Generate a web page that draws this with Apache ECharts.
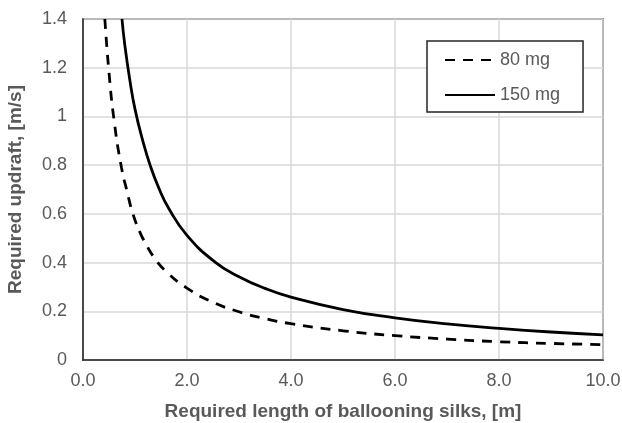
<!DOCTYPE html>
<html>
<head>
<meta charset="utf-8">
<script src="https://cdn.jsdelivr.net/npm/echarts@6/dist/echarts.min.js"></script>
<style>html,body{margin:0;padding:0;background:#fff}#chart{width:622px;height:423px}</style>
</head>
<body>
<div id="chart"></div>
<script>
// values
var seriesNames = ['80 mg', '150 mg'];
var x80 = [0.42, 0.5, 0.6, 0.74, 0.85, 0.96, 1.1, 1.2, 1.37, 1.6, 2.0, 2.5, 3.0, 3.5, 4.0, 5.0, 6.0, 7.0, 8.0, 9.0, 10.0];
var y80 = [1.4, 1.18, 0.98, 0.79, 0.69, 0.6, 0.522, 0.48, 0.42, 0.363, 0.295, 0.237, 0.198, 0.17, 0.149, 0.12, 0.1, 0.086, 0.075, 0.068, 0.063];
var x150 = [0.75, 0.8, 0.9, 1.0, 1.15, 1.29, 1.45, 1.65, 2.0, 2.54, 3.0, 3.5, 4.0, 5.0, 6.0, 7.0, 8.0, 9.0, 10.0];
var y150 = [1.4, 1.3, 1.15, 1.03, 0.9, 0.8, 0.71, 0.622, 0.512, 0.402, 0.342, 0.294, 0.258, 0.207, 0.173, 0.148, 0.13, 0.115, 0.103];

function pairs(xs, ys) {
    return xs.map(function (x, i) { return [x, ys[i]]; });
}

var textColor = '#595959';
var font = 'Liberation Sans, Arial, sans-serif';

var chart = echarts.init(document.getElementById('chart'));
chart.setOption({
    animation: false,
    textStyle: {fontFamily: font},
    grid: {
        left: 83, right: 19, top: 19, bottom: 63,
        outerBoundsMode: 'none',
        show: true, borderColor: '#262626', borderWidth: 1.5
    },
    legend: {
        orient: 'vertical',
        left: 427, top: 41,
        padding: [10, 23, 8, 17],
        itemGap: 17,
        itemWidth: 50,
        itemHeight: 18,
        backgroundColor: '#fff',
        borderColor: '#262626',
        borderWidth: 1.5,
        itemStyle: {opacity: 0},
        textStyle: {color: textColor, fontSize: 18, fontFamily: font},
        data: seriesNames
    },
    xAxis: {
        type: 'value',
        min: 0, max: 10, interval: 2,
        name: 'Required length of ballooning silks, [m]',
        nameLocation: 'middle',
        nameGap: 42,
        nameTextStyle: {color: textColor, fontSize: 19, fontWeight: 'bold', fontFamily: font},
        axisLine: {show: true, lineStyle: {color: '#262626', width: 1.5}},
        axisTick: {show: false},
        axisLabel: {color: textColor, fontSize: 18, margin: 12, formatter: function (v) { return v.toFixed(1); }},
        splitLine: {show: true, lineStyle: {color: '#d9d9d9', width: 1.5}}
    },
    yAxis: {
        type: 'value',
        min: 0, max: 1.4, interval: 0.2,
        name: 'Required updraft, [m/s]',
        nameLocation: 'middle',
        nameGap: 58,
        nameTextStyle: {color: textColor, fontSize: 19, fontWeight: 'bold', fontFamily: font},
        axisLine: {show: true, lineStyle: {color: '#262626', width: 1.5}},
        axisTick: {show: false},
        axisLabel: {color: textColor, fontSize: 18, margin: 16},
        splitLine: {show: true, lineStyle: {color: '#d9d9d9', width: 1.5}}
    },
    series: [
        {
            name: seriesNames[0],
            type: 'line',
            smooth: true,
            symbol: 'none',
            lineStyle: {color: '#000', width: 2.8, type: [10, 8]},
            itemStyle: {color: '#000'},
            data: pairs(x80, y80)
        },
        {
            name: seriesNames[1],
            type: 'line',
            smooth: true,
            symbol: 'none',
            lineStyle: {color: '#000', width: 2.8},
            itemStyle: {color: '#000'},
            data: pairs(x150, y150)
        }
    ]
});
</script>
</body>
</html>
